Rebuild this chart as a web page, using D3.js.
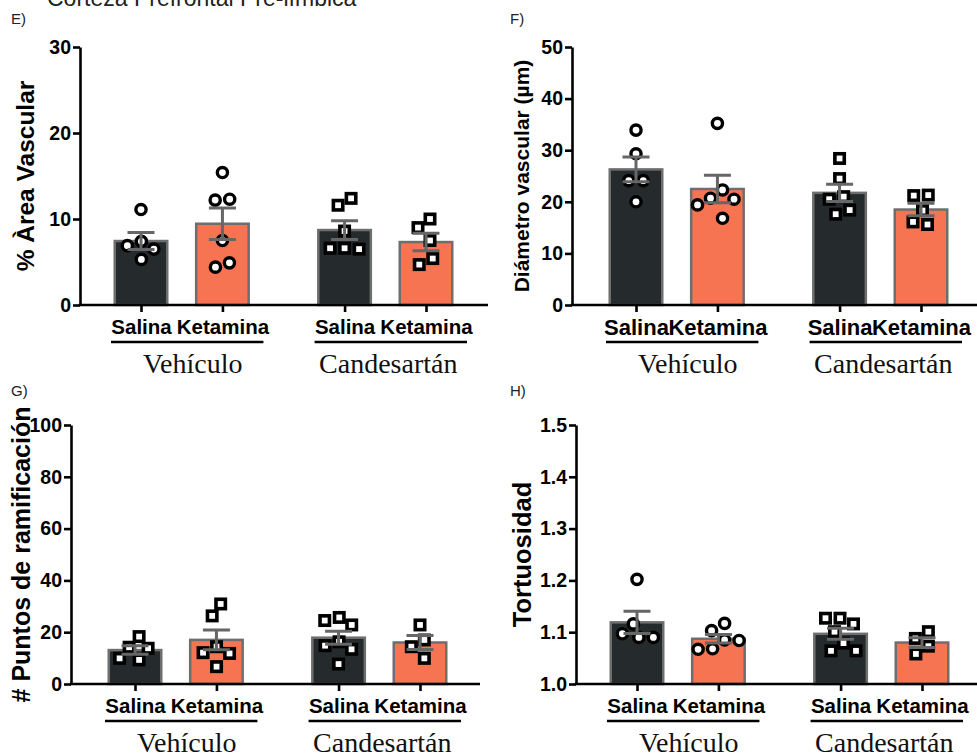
<!DOCTYPE html>
<html>
<head>
<meta charset="utf-8">
<script src="https://cdn.jsdelivr.net/npm/d3@7"></script>
<style>
  body { margin: 0; background: #fff; }
  svg text { font-family: "Liberation Sans", Arial, sans-serif; }
</style>
</head>
<body>
<svg id="chart" width="977" height="756"></svg>
<script>
// categories
const groups = ["Vehículo", "Candesartán"];
const treatments = ["Salina", "Ketamina"];

// each panel: [Salina-Vehículo, Ketamina-Vehículo, Salina-Candesartán, Ketamina-Candesartán]
const areaVascular = [
  [11.1, 7.4, 6.9, 6.5, 5.3],
  [15.4, 12.2, 12.3, 7.5, 4.4, 4.9],
  [11.6, 12.4, 8.6, 6.6, 6.5, 6.6],
  [10.0, 9.0, 7.5, 5.4, 4.7]
];
const diametroVascular = [
  [33.9, 29.3, 24.1, 24.1, 20.0],
  [35.2, 22.3, 20.7, 20.5, 19.4, 16.8],
  [28.4, 24.5, 20.5, 21.0, 18.4, 17.6],
  [21.3, 21.2, 18.3, 15.6, 16.1]
];
const puntosRamificacion = [
  [18.3, 13.8, 14.2, 9.3, 9.9],
  [30.9, 26.3, 14.4, 12.1, 11.8, 6.7],
  [25.7, 24.5, 22.8, 16.3, 14.8, 13.4, 7.7],
  [22.8, 17.0, 14.4, 9.9]
];
const tortuosidad = [
  [1.202, 1.116, 1.097, 1.090, 1.090],
  [1.117, 1.103, 1.084, 1.085, 1.067, 1.068],
  [1.127, 1.127, 1.116, 1.101, 1.079, 1.064, 1.064],
  [1.101, 1.088, 1.073, 1.058]
];

// tick labels
const ticksArea = [0, 10, 20, 30];
const ticksDiametro = [0, 10, 20, 30, 40, 50];
const ticksPuntos = [0, 20, 40, 60, 80, 100];
const ticksTortuosidad = [1.0, 1.1, 1.2, 1.3, 1.4, 1.5];

const svg = d3.select("#chart");

const barColors = ["#252b2d", "#f67452"];
const slots = [0, 1, 2.5, 3.5]; // bar positions, with a gap between the two groups

// title (cut off at the top of the picture)
svg.append("text")
  .attr("x", 47).attr("y", 6)
  .style("font-size", "23px").style("fill", "#222")
  .text("Corteza Prefrontal Pre-límbica");

const panels = [
  { letter: "E)", lx: 11, ly: 24, data: areaVascular, ticks: ticksArea, fmt: d3.format("d"),
    title: "% Àrea Vascular", tSize: 24.5, tx: 25, ax: 80, top: 47, bottom: 305, right: 488, c1: 141,
    shapes: ["circle", "circle", "square", "square"], labSize: 20.5, tickSize: 19.5 },
  { letter: "F)", lx: 510, ly: 24, data: diametroVascular, ticks: ticksDiametro, fmt: d3.format("d"),
    title: "Diámetro vascular (µm)", tSize: 21, tx: 522, ax: 572, top: 47, bottom: 305, right: 977, c1: 636,
    shapes: ["circle", "circle", "square", "square"], labSize: 22, tickSize: 19.5 },
  { letter: "G)", lx: 11, ly: 396, data: puntosRamificacion, ticks: ticksPuntos, fmt: d3.format("d"),
    title: "# Puntos de ramificación", tSize: 25, tx: 21, ax: 71, top: 425, bottom: 684, right: 480, c1: 135,
    shapes: ["square", "square", "square", "square"], labSize: 20.5, tickSize: 19.5 },
  { letter: "H)", lx: 510, ly: 396, data: tortuosidad, ticks: ticksTortuosidad, fmt: d3.format(".1f"),
    title: "Tortuosidad", tSize: 25.5, tx: 522, ax: 576, top: 425, bottom: 684, right: 977, c1: 637,
    shapes: ["circle", "circle", "square", "square"], labSize: 20.5, tickSize: 19.5 }
];

// spread points sideways where they would overlap, then centre each cluster
function swarm(vals, y, d) {
  const order = vals.map(v => ({ v, py: y(v) })).sort((a, b) => a.py - b.py);
  const placed = [];
  order.forEach(p => {
    let dx = 0;
    for (let k = 0; k < 400; k++) {
      const cands = k === 0 ? [0] : [-k * 0.5, k * 0.5];
      const ok = cands.find(c => placed.every(q => (q.dx - c) ** 2 + (q.py - p.py) ** 2 >= d * d));
      if (ok !== undefined) { dx = ok; break; }
    }
    placed.push({ v: p.v, py: p.py, dx });
  });
  // clusters: chains of points closer than d vertically
  let cluster = [placed[0]];
  const clusters = [cluster];
  for (let i = 1; i < placed.length; i++) {
    if (placed[i].py - placed[i - 1].py < d) cluster.push(placed[i]);
    else { cluster = [placed[i]]; clusters.push(cluster); }
  }
  clusters.forEach(c => {
    const m = d3.mean(c, q => q.dx);
    c.forEach(q => q.dx -= m);
  });
  return placed;
}

panels.forEach(p => {
  const g = svg.append("g");
  const dom = d3.extent(p.ticks);
  const y = d3.scaleLinear().domain(dom).range([p.bottom, p.top]);
  const x = d3.scaleLinear().domain([0, 3.5]).range([p.c1, p.c1 + 285]);

  const stats = p.data.map(v => ({
    mean: d3.mean(v),
    sem: d3.deviation(v) / Math.sqrt(v.length)
  }));

  // panel letter
  svg.append("text").attr("x", p.lx).attr("y", p.ly)
    .style("font-size", "15px").style("fill", "#222").text(p.letter);

  // bars
  const bw = 52.5;
  g.selectAll("rect.bar").data(stats).join("rect")
    .attr("class", "bar")
    .attr("x", (d, i) => x(slots[i]) - bw / 2)
    .attr("width", bw)
    .attr("y", d => y(d.mean))
    .attr("height", d => p.bottom - y(d.mean))
    .attr("fill", (d, i) => barColors[i % 2])
    .attr("stroke", "#6e6e6e")
    .attr("stroke-width", 2.5);

  // individual points
  p.data.forEach((vals, i) => {
    const pts = swarm(vals, y, 14.5);
    const cx = x(slots[i]);
    if (p.shapes[i] === "circle") {
      g.selectAll(null).data(pts).join("circle")
        .attr("cx", d => cx + d.dx).attr("cy", d => d.py).attr("r", 5.1)
        .attr("fill", "#fff").attr("stroke", "#000").attr("stroke-width", 3.4);
    } else {
      const s = 9.4;
      g.selectAll(null).data(pts).join("rect")
        .attr("x", d => cx + d.dx - s / 2).attr("y", d => d.py - s / 2)
        .attr("width", s).attr("height", s)
        .attr("fill", "#fff").attr("stroke", "#000").attr("stroke-width", 3.6);
    }
  });

  // error bars (mean ± SEM)
  const cap = 13.5;
  stats.forEach((d, i) => {
    const cx = x(slots[i]);
    const y1 = y(d.mean + d.sem), y0 = y(d.mean - d.sem);
    const path = `M${cx},${y1}V${y0}M${cx - cap},${y1}H${cx + cap}M${cx - cap},${y0}H${cx + cap}`;
    g.append("path").attr("d", path).attr("fill", "none")
      .attr("stroke", "#666").attr("stroke-width", 3);
  });

  // y axis
  const ya = g.append("g").attr("transform", `translate(${p.ax},0)`)
    .call(d3.axisLeft(y).tickValues(p.ticks).tickFormat(p.fmt).tickSize(7).tickSizeOuter(0).tickPadding(2));
  ya.select(".domain").attr("stroke-width", 2.6).attr("stroke", "#000");
  ya.selectAll(".tick line").attr("stroke-width", 2.6).attr("stroke", "#000");
  ya.selectAll(".tick text")
    .style("font-size", p.tickSize + "px").style("font-weight", "bold")
    .style("font-family", "'Liberation Sans', Arial, sans-serif").attr("fill", "#000");

  // x axis
  g.append("line").attr("x1", p.ax - 1.3).attr("x2", p.right).attr("y1", p.bottom).attr("y2", p.bottom)
    .attr("stroke", "#000").attr("stroke-width", 2.6);
  const xa = g.append("g").attr("transform", `translate(0,${p.bottom})`)
    .call(d3.axisBottom(x).tickValues(slots).tickSize(7).tickPadding(7)
      .tickFormat(v => treatments[slots.indexOf(v) % 2]));
  xa.select(".domain").remove();
  xa.selectAll(".tick line").attr("stroke-width", 2.6).attr("stroke", "#000");
  xa.selectAll(".tick text")
    .style("font-size", p.labSize + "px").style("font-weight", "bold")
    .style("font-family", "'Liberation Sans', Arial, sans-serif").attr("fill", "#000");

  // group underlines and labels
  groups.forEach((name, k) => {
    const a = x(slots[2 * k]), b = x(slots[2 * k + 1]);
    g.append("line").attr("x1", a - 30).attr("x2", b + 41)
      .attr("y1", p.bottom + 37).attr("y2", p.bottom + 37)
      .attr("stroke", "#000").attr("stroke-width", 2.5);
    g.append("text")
      .attr("x", (a + b) / 2 + (k === 0 ? 11 : 3)).attr("y", p.bottom + 68)
      .attr("text-anchor", "middle")
      .style("font-family", "'Liberation Serif', 'Times New Roman', serif")
      .style("font-size", "28px").attr("fill", "#111")
      .text(name);
  });

  // y axis title
  g.append("text")
    .attr("transform", `translate(${p.tx},${(p.top + p.bottom) / 2}) rotate(-90)`)
    .attr("text-anchor", "middle").attr("dy", "0.35em")
    .style("font-size", p.tSize + "px").style("font-weight", "bold").attr("fill", "#000")
    .text(p.title);
});
</script>
</body>
</html>
